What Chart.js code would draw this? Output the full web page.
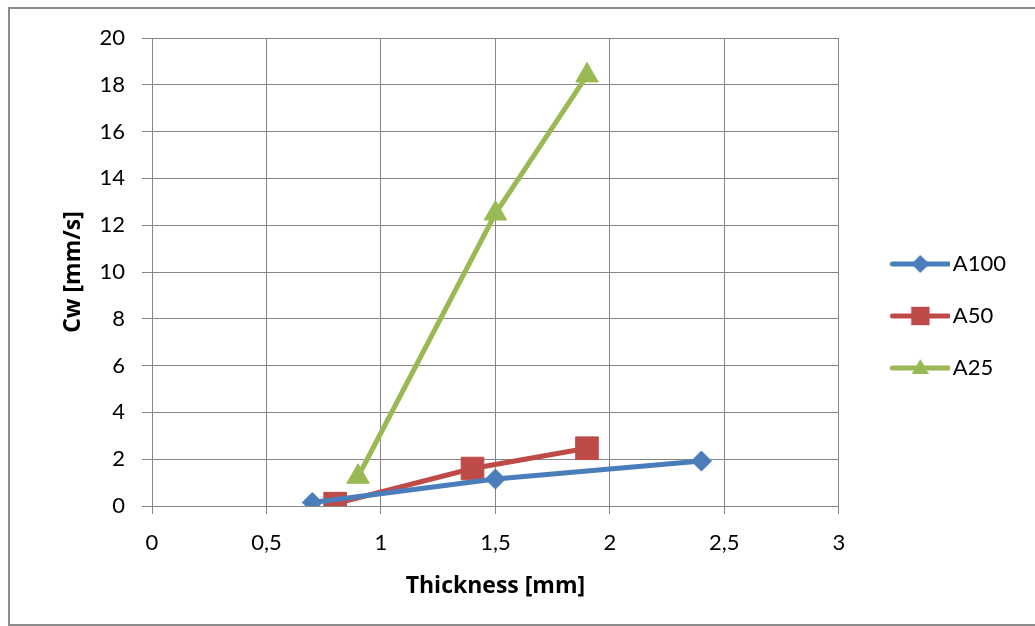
<!DOCTYPE html>
<html><head><meta charset="utf-8">
<script src="https://cdn.jsdelivr.net/npm/chart.js@4/dist/chart.umd.min.js"></script>
<style>
html,body{margin:0;padding:0;background:#fff;overflow:hidden;width:1035px;height:626px}
#frame{position:absolute;left:8px;top:7px;width:1040px;height:619px;border:2px solid #8c8c8c;box-sizing:border-box}
#wrap{position:absolute;left:0;top:0;width:1035px;height:626px}
</style></head>
<body><div id="frame"></div><div id="wrap"><canvas id="c" width="1035" height="626"></canvas></div>
<script>
const seriesNames = ['A100', 'A50', 'A25'];
const a100X = [0.7, 1.5, 2.4];
const a100Y = [0.15, 1.15, 1.92];
const a50X = [0.8, 1.4, 1.9];
const a50Y = [0.1, 1.6, 2.47];
const a25X = [0.9, 1.5, 1.9];
const a25Y = [1.25, 12.5, 18.4];
const xTickValues = [0, 0.5, 1, 1.5, 2, 2.5, 3];
const xTickLabels = ['0', '0,5', '1', '1,5', '2', '2,5', '3'];
const yTickLabels = ['0', '2', '4', '6', '8', '10', '12', '14', '16', '18', '20'];
const xTitle = 'Thickness [mm]';
const yTitle = 'Cw [mm/s]';

const colors = ['#4A7EBB', '#BE4B48', '#98B954'];
const styles = ['rectRot', 'rect', 'triangle'];
const radii = [10, 16, 13];
const FONT = 'Lato, "Open Sans", sans-serif';
const TFONT = '"Open Sans", Lato, sans-serif';

function pts(xs, ys) { return xs.map((x, i) => ({x: x, y: ys[i]})); }

function drawMarker(ctx, style, r, x, y) {
  ctx.beginPath();
  if (style === 'rectRot') {
    ctx.moveTo(x - r, y); ctx.lineTo(x, y - r); ctx.lineTo(x + r, y); ctx.lineTo(x, y + r);
  } else if (style === 'rect') {
    const s = Math.SQRT1_2 * r; ctx.rect(x - s, y - s, 2 * s, 2 * s);
  } else {
    ctx.moveTo(x, y - r); ctx.lineTo(x - r * 0.866, y + r / 2); ctx.lineTo(x + r * 0.866, y + r / 2);
  }
  ctx.closePath(); ctx.fill();
}
function legendImg(i) {
  const c = document.createElement('canvas');
  c.width = 90; c.height = 24;
  const g = c.getContext('2d');
  g.strokeStyle = colors[i]; g.fillStyle = colors[i]; g.lineWidth = 5; g.lineCap = 'round';
  g.beginPath(); g.moveTo(32, 12); g.lineTo(88, 12); g.stroke();
  const lr = [9, 13, 10][i];
  drawMarker(g, styles[i], lr, 60, i === 2 ? 13 : 12);
  return c;
}
const legendImgs = [0, 1, 2].map(legendImg);

const xs = [a100X, a50X, a25X], ys = [a100Y, a50Y, a25Y];
const datasets = seriesNames.map((n, i) => ({
  label: n,
  data: pts(xs[i], ys[i]),
  showLine: true,
  borderColor: colors[i],
  backgroundColor: colors[i],
  borderWidth: 5,
  pointStyle: styles[i],
  pointRadius: radii[i],
  pointBorderWidth: 1,
  pointBorderColor: colors[i],
  pointBackgroundColor: colors[i],
  tension: 0
}));

new Chart(document.getElementById('c'), {
  type: 'scatter',
  data: {datasets: datasets},
  options: {
    responsive: false,
    animation: false,
    devicePixelRatio: 1,
    layout: {padding: {top: 6, right: 19, bottom: 0, left: 0}},
    plugins: {
      tooltip: {enabled: false},
      title: {display: true, text: '', fullSize: false, font: {size: 10, lineHeight: 1}, padding: {top: 22, bottom: 0}},
      legend: {
        position: 'right',
        labels: {
          usePointStyle: true,
          pointStyleWidth: 73,
          padding: 30,
          color: '#000',
          font: {family: FONT, size: 22},
          generateLabels: function (chart) {
            return chart.data.datasets.map((d, i) => ({
              text: d.label, datasetIndex: i, pointStyle: legendImgs[i],
              fillStyle: colors[i], strokeStyle: colors[i], lineWidth: 0, hidden: false, fontColor: '#000'
            }));
          }
        }
      }
    },
    scales: {
      x: {
        type: 'linear', min: 0, max: 3,
        afterBuildTicks: s => { s.ticks = xTickValues.map(v => ({value: v})); },
        afterFit: s => { s.height = 120; },
        grid: {color: '#858585', lineWidth: 1, tickLength: 8, drawTicks: true},
        border: {color: '#858585', width: 1},
        ticks: {
          padding: 16, color: '#000', font: {family: FONT, size: 22}, maxRotation: 0,
          callback: (v) => { const k = xTickValues.indexOf(v); return k >= 0 ? xTickLabels[k] : ''; }
        },
        title: {display: true, text: xTitle, color: '#000', font: {family: TFONT, size: 23, weight: 'bold'}, padding: {top: 0, bottom: 26}}
      },
      y: {
        type: 'linear', min: 0, max: 20,
        afterBuildTicks: s => { s.ticks = yTickLabels.map(t => ({value: Number(t)})); },
        afterFit: s => { s.width = 152; },
        grid: {color: '#858585', lineWidth: 1, tickLength: 10, drawTicks: true},
        border: {color: '#858585', width: 1},
        ticks: {
          padding: 17, color: '#000', font: {family: FONT, size: 22},
          callback: (v) => { const k = yTickLabels.indexOf(String(v)); return k >= 0 ? yTickLabels[k] : ''; }
        },
        title: {display: true, text: yTitle, color: '#000', font: {family: TFONT, size: 23, weight: 'bold'}, padding: {top: 60, bottom: 0}}
      }
    }
  }
});
</script>
</body></html>
